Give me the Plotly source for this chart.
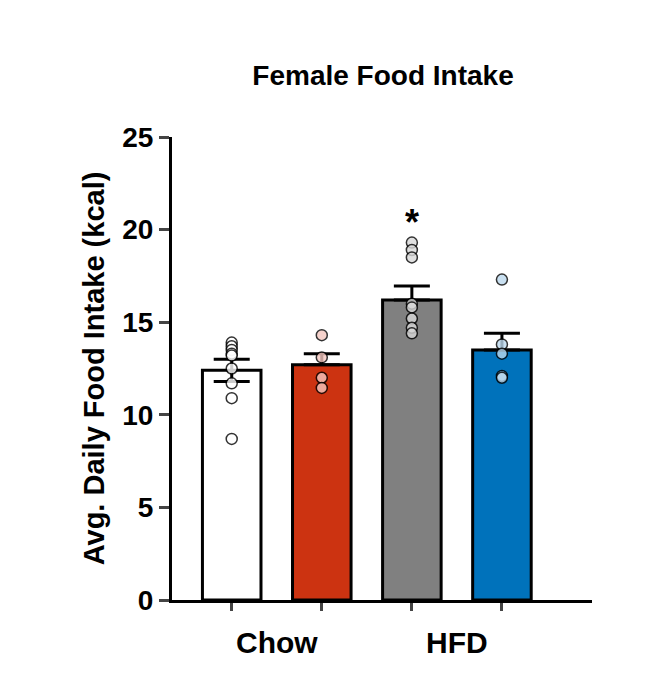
import plotly.graph_objects as go

groups = ["Chow ctrl", "Chow trt", "HFD ctrl", "HFD trt"]
means = [12.4, 12.7, 16.2, 13.5]
sems = [0.6, 0.6, 0.75, 0.9]
points = [
    [13.9, 13.7, 13.5, 13.3, 13.2, 12.5, 11.7, 10.9, 8.7],
    [14.3, 13.1, 12.0, 11.45],
    [19.3, 18.9, 18.5, 16.0, 15.8, 15.2, 14.7, 14.4],
    [17.3, 13.8, 13.3, 12.1, 12.0],
]
bar_colors = ["#ffffff", "#cc3311", "#808080", "#0072bb"]
pt_colors = ["#ffffff", "#f4c7c0", "#d9d9d9", "#bcd9ee"]
xs = [1, 2, 3, 4]

fig = go.Figure()
fig.add_trace(go.Bar(x=xs, y=means, width=0.65, marker=dict(color=bar_colors, line=dict(color="black", width=3)),
                     error_y=dict(type="data", array=sems, arrayminus=[sems[0], 0, 0, 0], color="black", thickness=3, width=18),
                     showlegend=False))
for x, pts, c in zip(xs, points, pt_colors):
    fig.add_trace(go.Scatter(x=[x]*len(pts), y=pts, mode="markers", showlegend=False,
                             marker=dict(size=11, color=c, opacity=0.8, line=dict(color="black", width=1.5))))
fig.add_annotation(x=3, y=20.4, text="<b>*</b>", showarrow=False, font=dict(size=36, color="black"))
for x, t in [(1.5, "Chow"), (3.5, "HFD")]:
    fig.add_annotation(x=x, y=0, yshift=-42, text="<b>%s</b>" % t, showarrow=False, font=dict(size=30, color="black"))

fig.update_layout(
    width=658, height=674, plot_bgcolor="white", paper_bgcolor="white",
    margin=dict(l=164, r=74, t=129, b=82),
    font=dict(family="Liberation Sans, Arial", color="black"),
    title=dict(text="<b>Female Food Intake</b>", x=0.57, xanchor="center", y=0.9, yanchor="middle", font=dict(size=28)),
    xaxis=dict(range=[0.337, 5.0], tickvals=xs, ticktext=["", "", "", ""], ticks="outside", ticklen=8, tickwidth=3,
               showline=True, linewidth=3, linecolor="black", showgrid=False, zeroline=False),
    yaxis=dict(range=[0, 25], tickvals=[0, 5, 10, 15, 20, 25], ticks="outside", ticklen=10, tickwidth=3,
               showline=True, linewidth=3, linecolor="black", showgrid=False, zeroline=False,
               tickfont=dict(size=28, weight="bold"),
               title=dict(text="<b>Avg. Daily Food Intake (kcal)</b>", font=dict(size=29), standoff=10)),
)
fig.write_html("out.html")
